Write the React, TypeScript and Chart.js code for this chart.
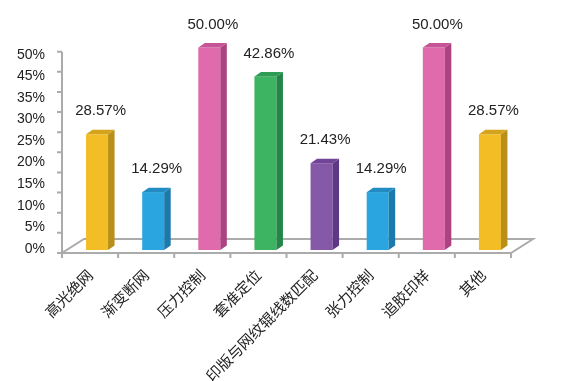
import { useEffect, useRef } from "react";
import { Chart, registerables } from "chart.js";

Chart.register(...registerables);

const categories = ["高光绝网", "渐变断网", "压力控制", "套准定位", "印版与网纹辊线数匹配", "张力控制", "追胶印样", "其他"];
const values = [28.57, 14.29, 50.0, 42.86, 21.43, 14.29, 50.0, 28.57];
const yTickLabels = ["0%", "5%", "10%", "15%", "20%", "25%", "30%", "35%", "45%", "50%"];
const yTickMarks = [0, 5, 10, 15, 20, 25, 30, 35, 40, 45, 50];

const frontColors = ["#F3BD25", "#2AA5DF", "#DF6BAD", "#3CB462", "#8658A8", "#2AA5DF", "#DF6BAD", "#F3BD25"];
const sideColors = ["#B98F17", "#1B7AAB", "#AC4280", "#248549", "#5D3884", "#1B7AAB", "#AC4280", "#B98F17"];
const topColors = ["#D6A31D", "#228CC2", "#C65597", "#2E9C55", "#704596", "#228CC2", "#C65597", "#D6A31D"];

const GRAY = "#ABABAB";
const FLOOR_DX = 22;
const FLOOR_DY = 14;
const BAR_SHIFT = 7;
const BAR_DX = 6.5;
const BAR_DY = 4.5;
const LABEL_SHIFT = 10.5;

const bar3d = {
  id: "bar3d",
  beforeDatasetsDraw(chart: any) {
    const { ctx, chartArea: a, scales } = chart;
    const x = scales.x;
    const yf = scales.yf;
    const fb = yf.getPixelForValue(0);
    ctx.save();
    ctx.strokeStyle = GRAY;
    ctx.lineWidth = 2;
    ctx.beginPath();
    ctx.moveTo(a.left, fb);
    ctx.lineTo(a.right, fb);
    ctx.lineTo(a.right + FLOOR_DX, fb - FLOOR_DY);
    ctx.lineTo(a.left + FLOOR_DX, fb - FLOOR_DY);
    ctx.closePath();
    ctx.stroke();
    ctx.beginPath();
    ctx.moveTo(a.left, yf.getPixelForValue(50));
    ctx.lineTo(a.left, fb);
    ctx.stroke();
    ctx.beginPath();
    for (const v of yTickMarks) {
      const p = yf.getPixelForValue(v);
      ctx.moveTo(a.left - 5, p);
      ctx.lineTo(a.left, p);
    }
    const step = x.getPixelForValue(1) - x.getPixelForValue(0);
    for (let i = 0; i <= categories.length; i++) {
      const px = x.getPixelForValue(i) - step / 2;
      ctx.moveTo(px, fb);
      ctx.lineTo(px, fb + 5);
    }
    ctx.stroke();
    ctx.restore();
  },
  afterDatasetsDraw(chart: any) {
    const { ctx } = chart;
    const meta = chart.getDatasetMeta(0);
    ctx.save();
    meta.data.forEach((el: any, i: number) => {
      const { x, y, base, width } = el.getProps(["x", "y", "base", "width"], true);
      const l = x + BAR_SHIFT - width / 2;
      const r = l + width;
      ctx.fillStyle = frontColors[i];
      ctx.fillRect(l, y, width, base - y);
      ctx.fillStyle = sideColors[i];
      ctx.beginPath();
      ctx.moveTo(r, y);
      ctx.lineTo(r + BAR_DX, y - BAR_DY);
      ctx.lineTo(r + BAR_DX, base - BAR_DY);
      ctx.lineTo(r, base);
      ctx.closePath();
      ctx.fill();
      ctx.fillStyle = topColors[i];
      ctx.beginPath();
      ctx.moveTo(l, y);
      ctx.lineTo(l + BAR_DX, y - BAR_DY);
      ctx.lineTo(r + BAR_DX, y - BAR_DY);
      ctx.lineTo(r, y);
      ctx.closePath();
      ctx.fill();
      ctx.fillStyle = "#222";
      ctx.font = '15px "Liberation Sans", Arial, sans-serif';
      ctx.textAlign = "center";
      ctx.textBaseline = "middle";
      ctx.fillText(values[i].toFixed(2) + "%", x + LABEL_SHIFT, y - 23);
    });
    ctx.restore();
  },
};

export default function App() {
  const ref = useRef<HTMLCanvasElement>(null);
  useEffect(() => {
    if (!ref.current) return;
    const chart = new Chart(ref.current, {
      type: "bar",
      data: {
        labels: categories,
        datasets: [
          {
            data: values,
            backgroundColor: "rgba(0,0,0,0)",
            borderWidth: 0,
            barPercentage: 0.392,
            categoryPercentage: 1,
            xAxisID: "x",
            yAxisID: "y",
          },
        ],
      },
      options: {
        animation: false,
        responsive: false,
        layout: { padding: { top: 47.5, right: 51, bottom: 0, left: 0 } },
        plugins: { legend: { display: false }, tooltip: { enabled: false } },
        scales: {
          x: {
            type: "category",
            grid: { display: false, drawTicks: false },
            border: { display: false },
            ticks: {
              autoSkip: false,
              minRotation: 45,
              maxRotation: 45,
              padding: 13,
              color: "#222",
              font: { family: '"Noto Sans CJK SC", sans-serif', size: 15 },
            },
            afterFit: (s: any) => {
              s.height = 128;
            },
          },
          y: { type: "linear", axis: "y", display: false, min: -0.74, max: 50 },
          yf: { type: "linear", axis: "y", display: false, min: 0, max: 51.04 },
          yl: {
            type: "linear",
            axis: "y",
            position: "left",
            min: -0.2,
            max: 9.348,
            grid: { display: false, drawTicks: false },
            border: { display: false },
            ticks: {
              stepSize: 1,
              includeBounds: false,
              padding: 17,
              color: "#222",
              font: { family: '"Liberation Sans", Arial, sans-serif', size: 14 },
              callback: (v: any) => {
                const k = Math.round(Number(v));
                return Math.abs(Number(v) - k) < 1e-6 ? yTickLabels[k] ?? "" : "";
              },
            },
            afterFit: (s: any) => {
              s.width = 62;
            },
          },
        },
      } as any,
      plugins: [bar3d],
    });
    return () => chart.destroy();
  }, []);
  return (
    <div style={{ position: "absolute", left: 0, top: 0, width: 562, height: 381, background: "#fff" }}>
      <canvas ref={ref} width={562} height={381} />
    </div>
  );
}
